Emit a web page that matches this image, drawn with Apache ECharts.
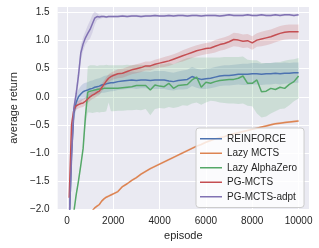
<!DOCTYPE html>
<html><head><meta charset="utf-8">
<script src="https://cdn.jsdelivr.net/npm/echarts@6/dist/echarts.min.js"></script>
<style>html,body{margin:0;padding:0;background:#fff}#c{width:319px;height:248px}</style>
</head><body><div id="c"></div>
<script>
const episodes = [100,200,300,400,500,600,700,800,900,1000,
  1100,1200,1300,1400,1500,1600,1700,1800,1900,2000,
  2200,2400,2600,2800,3000,3200,3400,3600,3800,4000,
  4200,4400,4600,4800,5000,5200,5400,5600,5800,6000,
  6200,6400,6600,6800,7000,7200,7400,7600,7800,8000,
  8200,8400,8600,8800,9000,9200,9400,9600,9800,10000];

const seriesNames = ['REINFORCE','Lazy MCTS','Lazy AlphaZero','PG-MCTS','PG-MCTS-adpt'];
const xTicks = [0,2000,4000,6000,8000,10000];
const yTicks = [-2.0,-1.5,-1.0,-0.5,0.0,0.5,1.0,1.5];

const reinforce = [-2.3,-1.0,-0.3,-0.1,0.0,0.05,0.09,0.11,0.12,0.14,
  0.15,0.17,0.18,0.19,0.21,0.22,0.23,0.24,0.25,0.25,
  0.27,0.28,0.29,0.3,0.29,0.3,0.3,0.29,0.3,0.3,
  0.3,0.28,0.27,0.29,0.3,0.31,0.36,0.33,0.31,0.32,
  0.33,0.35,0.37,0.38,0.38,0.39,0.4,0.4,0.4,0.41,
  0.41,0.4,0.41,0.41,0.42,0.41,0.42,0.42,0.43,0.43];
const reinforceSpread = [0.08,0.1,0.12,0.13,0.13,0.14,0.14,0.14,0.14,0.14,
  0.14,0.14,0.14,0.14,0.14,0.15,0.15,0.15,0.15,0.15,
  0.15,0.15,0.15,0.15,0.15,0.15,0.15,0.15,0.16,0.16,
  0.16,0.16,0.16,0.16,0.17,0.17,0.17,0.17,0.17,0.18,
  0.18,0.18,0.18,0.18,0.18,0.18,0.18,0.19,0.19,0.19,
  0.19,0.19,0.19,0.19,0.19,0.19,0.19,0.18,0.18,0.18];

const lazyMcts = [null,null,null,null,null,null,null,null,null,null,
  -2.03,-1.98,-1.95,-1.92,-1.86,-1.82,-1.79,-1.77,-1.75,-1.73,
  -1.69,-1.6,-1.55,-1.49,-1.44,-1.38,-1.33,-1.28,-1.24,-1.2,
  -1.16,-1.12,-1.08,-1.04,-1.0,-0.96,-0.92,-0.88,-0.85,-0.81,
  -0.78,-0.75,-0.73,-0.71,-0.68,-0.66,-0.64,-0.62,-0.6,-0.58,
  -0.56,-0.54,-0.52,-0.5,-0.48,-0.47,-0.46,-0.45,-0.44,-0.43];
const lazyMctsSpread = [null,null,null,null,null,null,null,null,null,null,
  0.02,0.02,0.02,0.02,0.02,0.02,0.02,0.02,0.02,0.02,
  0.02,0.02,0.02,0.02,0.02,0.02,0.02,0.02,0.02,0.02,
  0.02,0.02,0.02,0.02,0.02,0.02,0.02,0.02,0.02,0.02,
  0.02,0.02,0.02,0.02,0.02,0.02,0.02,0.02,0.02,0.02,
  0.02,0.02,0.02,0.02,0.02,0.02,0.02,0.02,0.02,0.02];

const lazyAlphaZero = [null,null,-2.05,-1.75,-1.5,-1.22,-0.92,-0.35,0.08,0.1,
  0.11,0.12,0.13,0.14,0.14,0.15,0.15,0.15,0.15,0.15,
  0.15,0.16,0.17,0.18,0.2,0.2,0.2,0.12,0.21,0.19,
  0.18,0.24,0.15,0.2,0.21,0.22,0.3,0.35,0.17,0.26,
  0.24,0.27,0.29,0.3,0.31,0.31,0.33,0.37,0.24,0.24,
  0.3,0.09,0.1,0.15,0.13,0.17,0.15,0.22,0.27,0.37];
const lazyAlphaZeroUpper = [null,null,-2.02,-1.72,-1.47,-1.19,-0.88,-0.2,0.54,0.56,
  0.56,0.56,0.55,0.56,0.56,0.56,0.57,0.56,0.56,0.56,
  0.56,0.56,0.57,0.56,0.57,0.57,0.56,0.56,0.57,0.58,
  0.58,0.6,0.58,0.62,0.66,0.69,0.7,0.7,0.7,0.7,
  0.7,0.7,0.7,0.71,0.71,0.71,0.71,0.72,0.66,0.65,
  0.65,0.6,0.6,0.6,0.61,0.62,0.64,0.66,0.67,0.69];
const lazyAlphaZeroLower = [null,null,-2.08,-1.78,-1.53,-1.25,-0.96,-0.5,-0.28,-0.28,
  -0.29,-0.28,-0.27,-0.28,-0.27,-0.27,-0.26,-0.1,-0.26,-0.26,
  -0.25,-0.25,-0.24,-0.24,-0.23,-0.24,-0.22,-0.33,-0.22,-0.2,
  -0.21,-0.18,-0.2,-0.18,-0.15,-0.16,-0.12,-0.1,-0.14,-0.1,
  -0.07,-0.08,-0.1,-0.11,-0.12,-0.12,-0.13,-0.12,-0.16,-0.17,
  -0.3,-0.37,-0.35,-0.3,-0.26,-0.22,-0.21,-0.15,-0.08,-0.03];

const pgMcts = [-1.8,-0.5,-0.23,-0.16,-0.14,-0.12,-0.11,-0.08,-0.04,0.0,
  0.03,0.05,0.08,0.1,0.16,0.22,0.28,0.33,0.36,0.38,
  0.41,0.42,0.45,0.48,0.5,0.52,0.55,0.55,0.58,0.6,
  0.62,0.64,0.67,0.7,0.73,0.76,0.79,0.82,0.84,0.86,
  0.87,0.9,0.93,0.95,0.98,1.02,1.01,0.99,1.0,0.96,
  1.01,1.03,1.05,1.07,1.1,1.13,1.15,1.16,1.16,1.16];
const pgMctsSpread = [0.1,0.1,0.08,0.07,0.07,0.07,0.07,0.07,0.07,0.07,
  0.07,0.07,0.07,0.07,0.07,0.07,0.07,0.07,0.07,0.07,
  0.08,0.08,0.08,0.08,0.08,0.08,0.08,0.08,0.08,0.08,
  0.09,0.09,0.09,0.09,0.1,0.1,0.1,0.1,0.1,0.1,
  0.1,0.11,0.11,0.11,0.11,0.12,0.12,0.12,0.12,0.12,
  0.12,0.13,0.13,0.13,0.13,0.13,0.13,0.13,0.13,0.13];

const pgMctsAdpt = [-2.2,-1.1,-0.2,0.05,0.38,0.78,0.94,1.05,1.13,1.2,
  1.3,1.4,1.43,1.42,1.43,1.43,1.42,1.43,1.43,1.43,
  1.43,1.44,1.43,1.44,1.44,1.43,1.44,1.44,1.45,1.44,
  1.44,1.45,1.44,1.45,1.45,1.44,1.45,1.45,1.44,1.45,
  1.45,1.45,1.44,1.45,1.46,1.45,1.45,1.45,1.46,1.45,
  1.45,1.46,1.45,1.45,1.46,1.45,1.46,1.46,1.45,1.46];
const pgMctsAdptSpread = [0.05,0.08,0.1,0.12,0.14,0.14,0.12,0.12,0.14,0.16,
  0.16,0.12,0.06,0.04,0.03,0.02,0.02,0.02,0.02,0.02,
  0.02,0.02,0.02,0.02,0.02,0.02,0.02,0.02,0.02,0.02,
  0.02,0.02,0.02,0.02,0.02,0.02,0.02,0.02,0.02,0.02,
  0.02,0.02,0.02,0.02,0.02,0.02,0.02,0.02,0.02,0.02,
  0.02,0.02,0.02,0.02,0.02,0.02,0.02,0.02,0.02,0.02];

const colors = ['#4C72B0','#DD8452','#55A868','#C44E52','#8172B3'];
const FONT = 'Liberation Sans, Arial, sans-serif';
const TXT = '#262626';

const series = [];
function addSeries(name, color, mean, lower, upper) {
  series.push({
    type: 'custom', silent: true, clip: true,
    data: [[episodes[0], 0]],
    renderItem: function (params, api) {
      const top = [], bot = [];
      episodes.forEach(function (e, i) {
        if (lower[i] != null && upper[i] != null) {
          top.push(api.coord([e, upper[i]]));
          bot.push(api.coord([e, lower[i]]));
        }
      });
      return {
        type: 'polygon',
        shape: { points: top.concat(bot.reverse()) },
        style: { fill: color, opacity: 0.2 }
      };
    }
  });
  series.push({
    type: 'line', name: name, symbol: 'none', showSymbol: false,
    lineStyle: { color: color, width: 1.5 }, itemStyle: { color: color },
    data: episodes.map(function (e, i) { return [e, mean[i]]; })
  });
}
function lo(m, s) { return m.map(function (v, i) { return v == null ? null : v - s[i]; }); }
function hi(m, s) { return m.map(function (v, i) { return v == null ? null : v + s[i]; }); }

addSeries(seriesNames[0], colors[0], reinforce, lo(reinforce, reinforceSpread), hi(reinforce, reinforceSpread));
addSeries(seriesNames[1], colors[1], lazyMcts, lo(lazyMcts, lazyMctsSpread), hi(lazyMcts, lazyMctsSpread));
addSeries(seriesNames[2], colors[2], lazyAlphaZero, lazyAlphaZeroLower, lazyAlphaZeroUpper);
addSeries(seriesNames[3], colors[3], pgMcts, lo(pgMcts, pgMctsSpread), hi(pgMcts, pgMctsSpread));
addSeries(seriesNames[4], colors[4], pgMctsAdpt, lo(pgMctsAdpt, pgMctsAdptSpread), hi(pgMctsAdpt, pgMctsAdptSpread));

const chart = echarts.init(document.getElementById('c'), null, { renderer: 'canvas' });
chart.setOption({
  animation: false,
  textStyle: { fontFamily: FONT },
  grid: { left: 50, right: 10, top: 7, bottom: 39, show: true, backgroundColor: '#EAEAF2', borderWidth: 0 },
  xAxis: {
    type: 'value', min: -400, max: 10450, splitNumber: 5,
    axisLine: { show: false }, axisTick: { show: false },
    splitLine: { show: true, showMinLine: false, showMaxLine: false, lineStyle: { color: '#ffffff', width: 1 } },
    axisLabel: {
      color: TXT, fontSize: 10, fontFamily: FONT, margin: 7, showMinLabel: false, showMaxLabel: false,
      formatter: function (v) { return xTicks.indexOf(v) >= 0 ? String(v) : ''; }
    },
    name: 'episode', nameLocation: 'middle', nameGap: 19,
    nameTextStyle: { color: TXT, fontSize: 11, fontFamily: FONT }
  },
  yAxis: {
    type: 'value', min: -2.0, max: 1.6, interval: 0.5,
    axisLine: { show: false }, axisTick: { show: false },
    splitLine: { show: true, showMinLine: false, showMaxLine: false, lineStyle: { color: '#ffffff', width: 1 } },
    axisLabel: {
      color: TXT, fontSize: 10, fontFamily: FONT, margin: 8, showMaxLabel: false,
      formatter: function (v) {
        const t = yTicks.find(function (k) { return Math.abs(k - v) < 1e-6; });
        return t === undefined ? '' : t.toFixed(1).replace('-', '\u2212');
      }
    },
    name: 'average return', nameLocation: 'middle', nameGap: 34,
    nameTextStyle: { color: TXT, fontSize: 11, fontFamily: FONT }
  },
  legend: {
    data: seriesNames, orient: 'vertical', left: 196, top: 128,
    padding: [5, 7, 5, 4], icon: 'rect', itemWidth: 22, itemHeight: 1.5, itemGap: 3,
    backgroundColor: 'rgba(255,255,255,0.8)', borderColor: '#cccccc', borderWidth: 1, borderRadius: 3,
    textStyle: { color: TXT, fontSize: 10, fontFamily: FONT, lineHeight: 11.5 }
  },
  series: series
});
</script>
</body></html>
